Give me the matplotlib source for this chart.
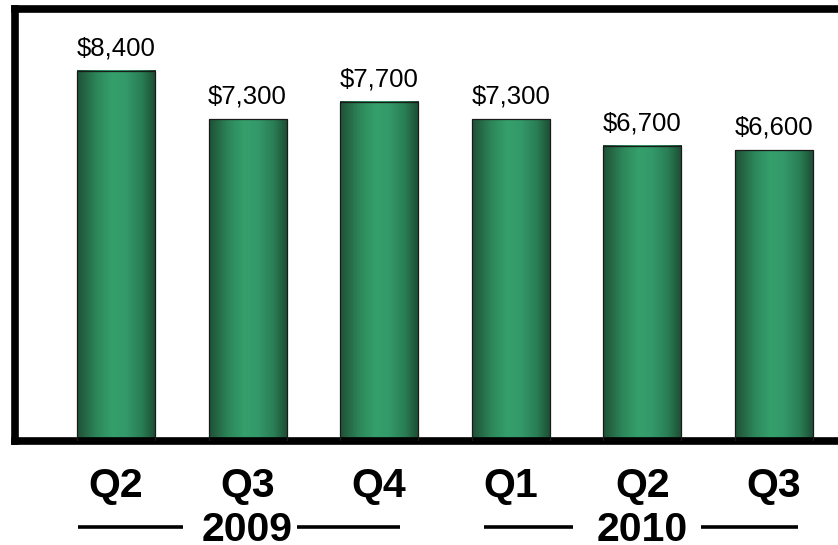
import numpy as np
import matplotlib
matplotlib.use("Agg")
import matplotlib.pyplot as plt
from matplotlib.colors import LinearSegmentedColormap

plt.rcParams['font.family'] = ['Liberation Sans', 'DejaVu Sans']

# quarterly values
quarters = ['Q2', 'Q3', 'Q4', 'Q1', 'Q2', 'Q3']
values = [8400, 7300, 7700, 7300, 6700, 6600]
value_labels = ['$8,400', '$7,300', '$7,700', '$7,300', '$6,700', '$6,600']
years = ['2009', '2010']
year_centers = [1, 4]   # middle quarter of each year

# cylinder-ish shading across each bar
shade = LinearSegmentedColormap.from_list('shade', [
    (0.00, '#1f5036'), (0.25, '#2d875a'), (0.45, '#35a06b'),
    (0.62, '#33996a'), (0.82, '#2a7e55'), (1.00, '#1d4b32')])

fig = plt.figure(figsize=(8.38, 5.45), dpi=100)
ax = fig.add_axes([15 / 838, 104 / 545, 835 / 838, 432 / 545])

x = np.arange(len(values))
width = 0.593
bars = ax.bar(x, values, width=width, facecolor='none',
              edgecolor='#1a1a1a', linewidth=0.9, zorder=3)

grad = np.linspace(0, 1, 256).reshape(1, -1)
for b in bars:
    x0 = b.get_x()
    ax.imshow(grad, extent=(x0, x0 + b.get_width(), 0, b.get_height()),
              aspect='auto', cmap=shade, zorder=2, interpolation='bicubic')

ax.bar_label(bars, labels=value_labels, padding=7.5, fontsize=18.5)

ax.set_xlim(-0.7675, 5.578)
ax.set_ylim(0, 9800)
ax.set_xticks([])
ax.set_yticks([])
for sp in ax.spines.values():
    sp.set_linewidth(5.5)
    sp.set_color('black')

# quarter labels under the frame
tr = ax.get_xaxis_transform()
for i, q in enumerate(quarters):
    ax.text(i, -0.1296, q, transform=tr, ha='center', va='baseline',
            fontsize=29.5, fontweight='bold')

# year labels with rules either side
rules = [[(-0.29, 0.51), (1.375, 2.16)], [(2.80, 3.47), (4.445, 5.18)]]
for yr, cx, segs in zip(years, year_centers, rules):
    ax.text(cx, -0.232, yr, transform=tr, ha='center', va='baseline',
            fontsize=29.5, fontweight='bold')
    for a, b in segs:
        ax.plot([a, b], [-0.199, -0.199], transform=tr, color='black',
                linewidth=2.6, clip_on=False, solid_capstyle='butt')

fig.savefig('out.png', dpi=100)
